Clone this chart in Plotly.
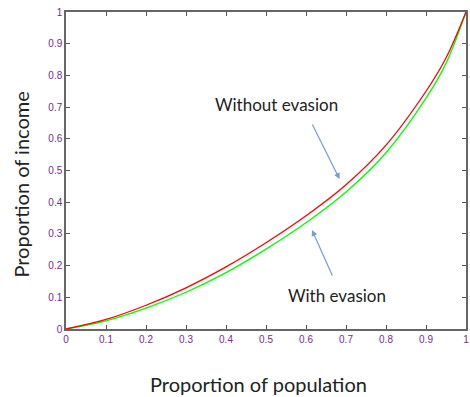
import plotly.graph_objects as go

population = [0, 0.1, 0.2, 0.3, 0.4, 0.5, 0.6, 0.7, 0.8, 0.9, 0.95, 1.0]
income_without = [0, 0.030, 0.075, 0.130, 0.196, 0.272, 0.357, 0.455, 0.580, 0.750, 0.855, 1.0]
income_with = [0, 0.026, 0.066, 0.116, 0.178, 0.252, 0.335, 0.432, 0.556, 0.728, 0.838, 1.0]

tick_vals = [0, 0.1, 0.2, 0.3, 0.4, 0.5, 0.6, 0.7, 0.8, 0.9, 1]
tick_text = ["0", "0.1", "0.2", "0.3", "0.4", "0.5", "0.6", "0.7", "0.8", "0.9", "1"]

fig = go.Figure()
fig.add_trace(go.Scatter(x=population, y=income_with, mode="lines",
                         line=dict(color="#00ff00", width=1.3, shape="spline", smoothing=1.0),
                         showlegend=False))
fig.add_trace(go.Scatter(x=population, y=income_without, mode="lines",
                         line=dict(color="#ff0000", width=1.3, shape="spline", smoothing=1.0),
                         showlegend=False))

axis_common = dict(
    range=[0, 1], tickvals=tick_vals, ticktext=tick_text,
    ticks="inside", ticklen=4, tickcolor="#555555",
    showline=True, linecolor="#666666", linewidth=1.5, mirror="allticks",
    showgrid=False, zeroline=False,
    tickfont=dict(family="Liberation Sans, Arial", size=10, color="#7a2a86"),
)

fig.update_layout(
    width=470, height=397,
    margin=dict(l=66, r=2, t=12, b=68),
    paper_bgcolor="white", plot_bgcolor="white",
    xaxis=dict(**axis_common),
    yaxis=dict(**axis_common),
    font=dict(family="Lato, Open Sans", color="#222222"),
)

fig.add_annotation(xref="paper", yref="paper", x=0.48, y=-0.175, yanchor="middle",
                   text="Proportion of population", showarrow=False,
                   font=dict(size=20, family="Lato", color="#222222"))
fig.add_annotation(xref="paper", yref="paper", x=-0.113, y=0.455, xanchor="center",
                   yanchor="middle",
                   text="Proportion of income", showarrow=False, textangle=-90,
                   font=dict(size=20, family="Lato", color="#222222"))

fig.add_annotation(x=0.527, y=0.707, text="Without evasion", showarrow=False,
                   font=dict(size=17, family="Lato", color="#222222"))
fig.add_annotation(x=0.677, y=0.107, text="With evasion", showarrow=False,
                   font=dict(size=17, family="Lato", color="#222222"))

fig.add_annotation(x=0.684, y=0.473, ax=-28, ay=-56, text="", showarrow=True,
                   arrowhead=2, arrowsize=1, arrowwidth=1.2, arrowcolor="#7a9cc8",
                   standoff=0)
fig.add_annotation(x=0.615, y=0.312, ax=21, ay=47, text="", showarrow=True,
                   arrowhead=2, arrowsize=1, arrowwidth=1.2, arrowcolor="#7a9cc8",
                   standoff=0)

fig.write_html("out.html")
